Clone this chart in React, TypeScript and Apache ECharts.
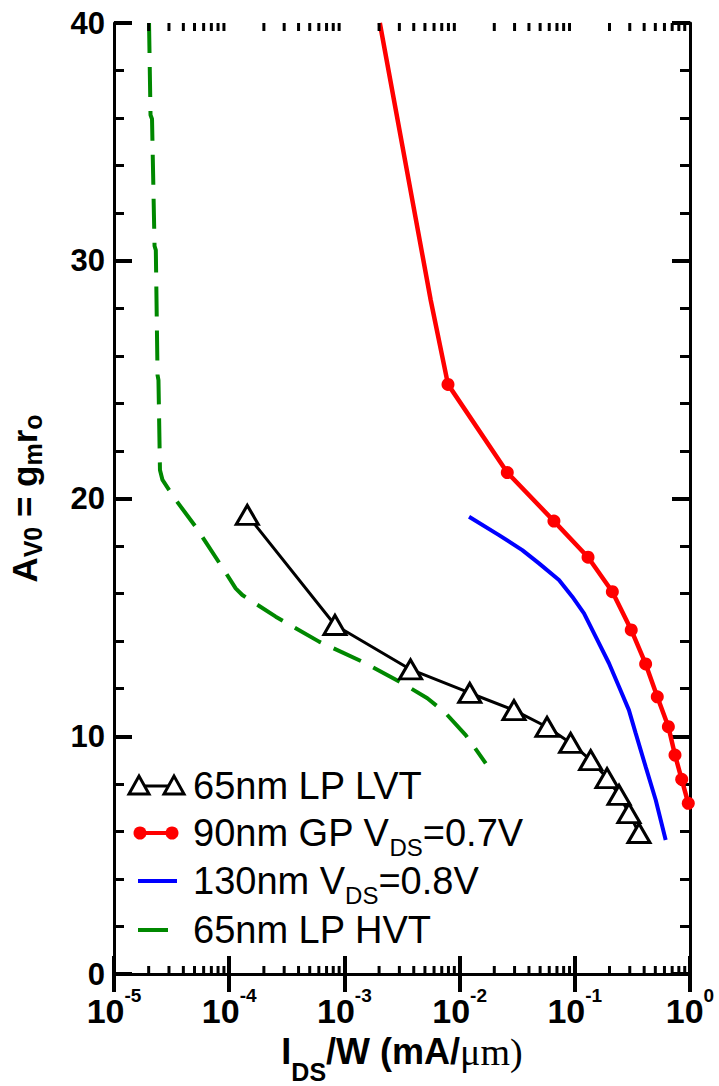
import React, { useEffect, useRef } from "react";
import * as echarts from "echarts";

// 65nm LP LVT (open triangles)
const lvtX = [1.435e-4, 8.28e-4, 3.75e-3, 1.225e-2, 2.965e-2, 5.74e-2, 9.2e-2, 0.1374, 0.1905, 0.242, 0.295, 0.3606];
const lvtY = [19.31, 14.68, 12.81, 11.82, 11.1, 10.39, 9.72, 9.0, 8.24, 7.53, 6.77, 5.93];

// 90nm GP VDS=0.7V (filled circles); the first two vertices carry no marker
const gpX = [2.03e-3, 5.61e-3, 7.93e-3, 2.594e-2, 6.59e-2, 0.1303, 0.2118, 0.309, 0.412, 0.52, 0.649, 0.741, 0.847, 0.966];
const gpY = [40, 28.35, 24.8, 21.09, 19.05, 17.53, 16.08, 14.47, 13.04, 11.66, 10.4, 9.21, 8.19, 7.18];
const gpNoMarker = [true, true, false, false, false, false, false, false, false, false, false, false, false, false];

// 130nm VDS=0.8V (solid line)
const n130X = [1.208e-2, 2.198e-2, 3.5e-2, 4.89e-2, 7.29e-2, 9.51e-2, 0.1202, 0.1517, 0.198, 0.242, 0.295, 0.338, 0.412, 0.504, 0.615];
const n130Y = [19.23, 18.46, 17.83, 17.27, 16.57, 15.87, 15.17, 14.19, 13.07, 12.08, 11.1, 10.12, 8.72, 7.32, 5.64];

// 65nm LP HVT (dashed line)
const hvtX = [2.014e-5, 2.075e-5, 2.138e-5, 2.249e-5, 2.307e-5, 2.388e-5, 2.432e-5, 2.506e-5, 2.636e-5, 3.436e-5, 5.12e-5, 9.02e-5, 1.138e-4, 1.3e-4, 2.535e-4, 6.03e-4, 1.429e-3, 3.18e-3, 5.25e-3, 7.57e-3, 1.13e-2, 1.687e-2];
const hvtY = [40, 36.13, 35.96, 30.62, 30.45, 25.19, 24.98, 21.2, 20.78, 19.94, 18.81, 16.99, 16.22, 15.94, 15.03, 13.98, 13.14, 12.23, 11.6, 10.97, 10.05, 8.86];

const xMin = 1e-5;
const xMax = 1;
const yMin = 0;
const yMax = 40;
const yStep = 10;

// legend entries: [text before subscript, subscript, text after subscript]
const legendParts: string[][] = [
  ["65nm LP LVT", "", ""],
  ["90nm GP V", "DS", "=0.7V"],
  ["130nm V", "DS", "=0.8V"],
  ["65nm LP HVT", "", ""],
];

const SANS = "'Liberation Sans', Arial, Helvetica, sans-serif";
const SERIF = "'Liberation Serif', 'Times New Roman', serif";

export default function App() {
  const ref = useRef<HTMLDivElement>(null);

  useEffect(() => {
    const el = ref.current;
    if (!el) return;
    const chart = echarts.init(el, null, { renderer: "svg" });

    const pair = (xs: number[], ys: number[]) => xs.map((x, i) => [x, ys[i]]);

    const ctx = document.createElement("canvas").getContext("2d")!;
    const measure = (t: string, size: number) => {
      ctx.font = `${size}px ${SANS}`;
      return ctx.measureText(t).width;
    };

    // minor tick positions of the log axis (2..9 within each decade)
    const minorTicks: number[][] = [];
    for (let d = Math.round(Math.log10(xMin)); d < Math.round(Math.log10(xMax)); d++) {
      for (let k = 2; k <= 9; k++) minorTicks.push([k * Math.pow(10, d), 0]);
    }

    const gpData = gpX.map((x, i) =>
      gpNoMarker[i] ? { value: [x, gpY[i]], symbol: "none" } : { value: [x, gpY[i]] }
    );

    const axisLineStyle = { color: "#000", width: 3 };
    const majorTick = { show: true, inside: true, length: 18, lineStyle: { color: "#000", width: 4 } };

    const tri = (cx: number, cy: number) => ({
      type: "polygon",
      shape: { points: [[cx - 10, cy + 8], [cx, cy - 10], [cx + 10, cy + 8]] },
      style: { fill: "#fff", stroke: "#000", lineWidth: 3 },
    });

    const LFS = 38;
    const SFS = 24;
    const txt = (x: number, y: number, text: string, size: number) => ({
      type: "text",
      x,
      y,
      style: { text, fontFamily: SANS, fontSize: size, fill: "#000", verticalAlign: "middle", align: "left" },
    });
    const legendText = (y: number, parts: string[]) => {
      const x0 = 193;
      const out: any[] = [txt(x0, y, parts[0], LFS)];
      if (parts[1]) {
        const x1 = x0 + measure(parts[0], LFS);
        out.push(txt(x1, y + 14, parts[1], SFS));
        const x2 = x1 + measure(parts[1], SFS);
        out.push(txt(x2, y, parts[2], LFS));
      }
      return out;
    };

    const rows = [786, 833, 881, 930];

    const option: any = {
      animation: false,
      backgroundColor: "#fff",
      grid: { left: 114, top: 23, right: 29, bottom: 112, containLabel: false, outerBoundsMode: "none" },
      xAxis: [
        {
          type: "log",
          logBase: 10,
          min: xMin,
          max: xMax,
          position: "bottom",
          axisLine: { lineStyle: axisLineStyle },
          axisTick: majorTick,
          splitLine: { show: false },
          axisLabel: {
            margin: 12,
            formatter: (v: number) => `{b|10}{e|${Math.round(Math.log10(v))}}`,
            rich: {
              b: { fontFamily: SANS, fontSize: 34, fontWeight: "bold", color: "#000" },
              e: { fontFamily: SANS, fontSize: 19, fontWeight: "bold", color: "#000", padding: [0, 0, 31, 0] },
            },
          },
          name: "{b|I}{s|DS}{b|/W (mA/}{m|μm)}",
          nameLocation: "middle",
          nameGap: 42,
          nameTextStyle: {
            rich: {
              b: { fontFamily: SANS, fontSize: 36, fontWeight: "bold", color: "#000" },
              s: { fontFamily: SANS, fontSize: 25, fontWeight: "bold", color: "#000", padding: [40, 0, 0, 0] },
              m: { fontFamily: SERIF, fontSize: 38, color: "#000" },
            },
          },
        },
        {
          type: "log",
          logBase: 10,
          min: xMin,
          max: xMax,
          position: "top",
          axisLine: { lineStyle: axisLineStyle },
          axisTick: majorTick,
          axisLabel: { show: false },
          splitLine: { show: false },
        },
      ],
      yAxis: [
        {
          type: "value",
          min: yMin,
          max: yMax,
          interval: yStep,
          position: "left",
          axisLine: { show: true, lineStyle: axisLineStyle },
          axisTick: majorTick,
          minorTick: { show: true, splitNumber: 5, length: 10, lineStyle: { color: "#000", width: 3 } },
          splitLine: { show: false },
          axisLabel: {
            margin: 9,
            fontFamily: SANS,
            fontSize: 31,
            fontWeight: "bold",
            color: "#000",
          },
          name: "{b|A}{s|V0}{b| = g}{s|m}{b|r}{s|o}",
          nameLocation: "middle",
          nameGap: 69,
          nameTextStyle: {
            rich: {
              b: { fontFamily: SANS, fontSize: 35, fontWeight: "bold", color: "#000" },
              s: { fontFamily: SANS, fontSize: 25, fontWeight: "bold", color: "#000", padding: [16, 0, 0, 0] },
            },
          },
        },
        {
          type: "value",
          min: yMin,
          max: yMax,
          interval: yStep,
          position: "right",
          axisLine: { show: true, lineStyle: axisLineStyle },
          axisTick: majorTick,
          minorTick: { show: true, splitNumber: 5, length: 10, lineStyle: { color: "#000", width: 3 } },
          splitLine: { show: false },
          axisLabel: { show: false },
        },
      ],
      series: [
        {
          type: "custom",
          name: "minor ticks",
          silent: true,
          clip: false,
          z: 10,
          data: minorTicks,
          encode: { x: 0, y: 1 },
          renderItem: (_p: any, api: any) => {
            const v = api.value(0);
            const b = api.coord([v, yMin]);
            const t = api.coord([v, yMax]);
            return {
              type: "group",
              children: [
                { type: "line", shape: { x1: b[0], y1: b[1], x2: b[0], y2: b[1] - 8 }, style: { stroke: "#000", lineWidth: 3 } },
                { type: "line", shape: { x1: t[0], y1: t[1], x2: t[0], y2: t[1] + 8 }, style: { stroke: "#000", lineWidth: 3 } },
              ],
            };
          },
        },
        {
          type: "line",
          name: "65nm LP HVT",
          data: pair(hvtX, hvtY),
          symbol: "none",
          lineStyle: { color: "#008800", width: 4, type: [30, 14] },
          z: 2,
        },
        {
          type: "line",
          name: "130nm VDS=0.8V",
          data: pair(n130X, n130Y),
          symbol: "none",
          lineStyle: { color: "#0000ff", width: 4 },
          z: 3,
        },
        {
          type: "line",
          name: "90nm GP VDS=0.7V",
          data: gpData,
          symbol: "circle",
          symbolSize: 13,
          itemStyle: { color: "#ff0000" },
          lineStyle: { color: "#ff0000", width: 4.5 },
          z: 4,
        },
        {
          type: "line",
          name: "65nm LP LVT",
          data: pair(lvtX, lvtY),
          symbol: "triangle",
          symbolSize: [22, 19],
          itemStyle: { color: "#fff", borderColor: "#000", borderWidth: 3 },
          lineStyle: { color: "#000", width: 3 },
          z: 5,
        },
      ],
      graphic: [
        { type: "line", shape: { x1: 139, y1: rows[0], x2: 174, y2: rows[0] }, style: { stroke: "#000", lineWidth: 3 } },
        tri(139, rows[0]),
        tri(174, rows[0]),
        ...legendText(rows[0], legendParts[0]),
        { type: "line", shape: { x1: 140, y1: rows[1], x2: 172, y2: rows[1] }, style: { stroke: "#ff0000", lineWidth: 4 } },
        { type: "circle", shape: { cx: 140, cy: rows[1], r: 6.5 }, style: { fill: "#ff0000" } },
        { type: "circle", shape: { cx: 172, cy: rows[1], r: 6.5 }, style: { fill: "#ff0000" } },
        ...legendText(rows[1], legendParts[1]),
        { type: "line", shape: { x1: 138, y1: rows[2], x2: 177, y2: rows[2] }, style: { stroke: "#0000ff", lineWidth: 4 } },
        ...legendText(rows[2], legendParts[2]),
        { type: "line", shape: { x1: 138, y1: rows[3], x2: 168, y2: rows[3] }, style: { stroke: "#008800", lineWidth: 4 } },
        ...legendText(rows[3], legendParts[3]),
      ],
    };

    chart.setOption(option);
    return () => chart.dispose();
  }, []);

  return (
    <div
      ref={ref}
      style={{ position: "fixed", left: 0, top: 0, width: 719, height: 1086, background: "#fff" }}
    />
  );
}
